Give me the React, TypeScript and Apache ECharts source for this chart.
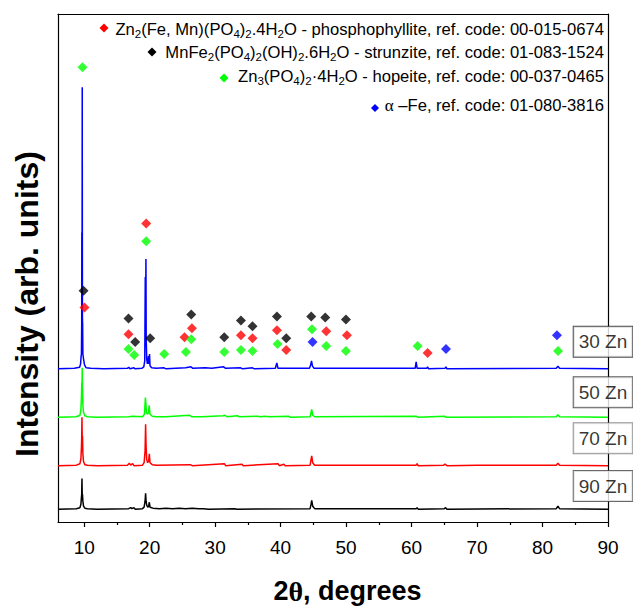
import React, { useEffect, useRef } from 'react';
import * as echarts from 'echarts';

const SANS = '"Liberation Sans", Arial, sans-serif';
const SERIF = '"Liberation Serif", "Times New Roman", serif';

// x axis (2θ, degrees)
const xMin = 6;
const xMax = 90;
const xTickValues = [10, 20, 30, 40, 50, 60, 70, 80, 90];
const xMinorTickValues = [15, 25, 35, 45, 55, 65, 75, 85];
const yMax = 514;

// samples (top to bottom)
const sampleNames = ['30 Zn', '50 Zn', '70 Zn', '90 Zn'];
const sampleOffsets = [155, 106, 57, 13];
const sampleLabelY = [182.5, 131.3, 84.7, 36.3];

// XRD patterns: [2θ, intensity above own baseline]
const pattern30Zn: number[][] = [
  [6, 0], [8.5, 0.5], [9.3, 1.5], [9.45, 5], [9.52, 12], [9.58, 15], [9.62, 46], [9.64, 138], [9.67, 60], [9.7, 285], [9.73, 50], [9.76, 46], [9.8, 15], [9.9, 10], [10.05, 4], [10.3, 1], [11, 0.5], [13, 0],
  [16.6, 0.5], [16.8, 1.5], [17, 0], [17.6, 1], [17.8, 0], [18.8, 0.5], [19.1, 2], [19.25, 8], [19.33, 93], [19.38, 60], [19.43, 111], [19.47, 30], [19.55, 10], [19.65, 5], [19.75, 8], [19.82, 13], [19.88, 5], [19.98, 15], [20.05, 3], [20.3, 1], [21, 0.5],
  [22.2, 1], [22.5, 0], [25.5, 1], [26.3, 2], [26.6, 0.5], [28.5, 1], [29.5, 0.5], [31.3, 2], [31.6, 0.5], [33.9, 1], [34.2, 0], [35.7, 1], [36, 0],
  [39.2, 0.5], [39.42, 6], [39.6, 0.5], [44.4, 0.5], [44.6, 4], [44.72, 8], [44.85, 3], [45.1, 0.5], [50, 0.5],
  [60.55, 0.5], [60.7, 7], [60.85, 0.5], [62.3, 0.5], [62.45, 2], [62.6, 0], [65.1, 0.5], [65.25, 2], [65.4, 0], [82.1, 0.5], [82.35, 2.5], [82.6, 0.5], [90, 0],
];
const pattern50Zn: number[][] = [
  [6, 0], [8.8, 0.5], [9.35, 2], [9.5, 8], [9.58, 20], [9.63, 35], [9.66, 28], [9.7, 50], [9.74, 30], [9.8, 12], [9.9, 5], [10.1, 1.5], [10.5, 0.5], [12, 0],
  [16.8, 0.5], [17.4, 1], [18.9, 0.5], [19.2, 3], [19.35, 20], [19.42, 14], [19.5, 5], [19.65, 3], [19.8, 4], [19.93, 12], [20.05, 3], [20.4, 1], [21, 0.5],
  [22.5, 0.5], [26.1, 2], [26.4, 0.5], [28, 0.5], [31.2, 1.5], [31.5, 2], [31.8, 0.5], [33.4, 1.5], [33.7, 0.5], [36.4, 1], [37, 0.5], [37.5, 1], [38.3, 0.5], [41.2, 1], [41.5, 0],
  [44.5, 0.5], [44.65, 5], [44.75, 8], [44.9, 2], [45.2, 0.5], [60.7, 1], [61, 0], [65, 1], [65.3, 0], [82.1, 0.5], [82.35, 2.5], [82.6, 0.5], [90, 0],
];
const pattern70Zn: number[][] = [
  [6, 0], [8.8, 0.5], [9.35, 2], [9.5, 7], [9.58, 18], [9.62, 28], [9.66, 49], [9.7, 26], [9.74, 30], [9.8, 12], [9.9, 4], [10.1, 1], [10.5, 0.5], [12, 0],
  [16.6, 0.5], [16.9, 2.5], [17.1, 0.5], [17.4, 2], [17.6, 0], [18.9, 0.5], [19.15, 3], [19.3, 15], [19.38, 42], [19.45, 20], [19.55, 6], [19.7, 3], [19.85, 5], [19.95, 12], [20.05, 3], [20.4, 1], [21, 0.5],
  [26.2, 1], [26.5, 0], [31.4, 2], [31.6, 0], [34.1, 1.5], [34.3, 0], [39.6, 2], [39.8, 0], [40.5, 1.5], [40.7, 0],
  [44.5, 0.5], [44.65, 6], [44.75, 10], [44.9, 3], [45.2, 0.5], [60.7, 0.5], [60.85, 2], [61, 0], [64.9, 0.5], [65.1, 1.5], [65.4, 0], [70, 0.5], [75, 0.5], [82.1, 0.5], [82.35, 2.5], [82.6, 0.5], [90, 0],
];
const pattern90Zn: number[][] = [
  [6, 0], [8.8, 0.5], [9.35, 1.5], [9.5, 5], [9.58, 12], [9.62, 15], [9.66, 31], [9.7, 14], [9.74, 15], [9.8, 8], [9.9, 3], [10.1, 1], [10.5, 0.5], [12, 0],
  [16.8, 0.5], [17.1, 1.5], [17.3, 0.5], [17.6, 1.5], [17.8, 0], [18.9, 0.5], [19.15, 2], [19.3, 8], [19.38, 16], [19.45, 8], [19.55, 4], [19.7, 2], [19.85, 3], [19.95, 7], [20.05, 2], [20.5, 1],
  [21.5, 0.5], [22.5, 1], [23.5, 0.5], [24.5, 1], [25.5, 0.5], [26.5, 1], [27.5, 0.5], [28.2, 0.5], [29, 0], [33, 0.5], [33.3, 0],
  [44.5, 0.5], [44.65, 5], [44.75, 9], [44.9, 3], [45.2, 0.5], [60.7, 0.5], [60.85, 1.5], [61, 0], [65, 0.5], [65.2, 1.5], [65.4, 0], [82.1, 0.5], [82.35, 3], [82.6, 0.5], [90, 0],
];
const samplePatterns = [pattern30Zn, pattern50Zn, pattern70Zn, pattern90Zn];

// reference peak markers: [2θ, marker height]
const phosphophylliteRef = [[10.05, 217], [16.77, 190], [19.47, 302], [25.32, 187], [26.46, 196], [33.94, 189], [35.71, 186], [39.44, 194], [40.86, 174], [46.97, 193], [50.13, 189], [62.45, 171]];
const strunziteRef = [[9.9, 234], [16.77, 206], [17.79, 182], [20.08, 186], [26.35, 210], [31.39, 187], [33.94, 204], [35.71, 198], [39.44, 208], [40.86, 186], [44.68, 208], [46.82, 207], [49.98, 205]];
const hopeiteRef = [[9.74, 460], [16.77, 175], [17.64, 169], [19.47, 284], [22.22, 170], [25.54, 172], [26.35, 185], [31.39, 172], [33.94, 174], [35.71, 173], [39.53, 180], [44.79, 195], [46.97, 178], [49.98, 173], [60.92, 178], [82.37, 173]];
const alphaFeRef = [[44.88, 182], [65.26, 175], [82.2, 189]];

const sampleColors = ['#0000ff', '#00ff00', '#ff0000', '#000000'];
const labelBorderColors = ['#222', '#333', '#777', '#444'];

const legendRich = {
  t: { fontSize: 16.6, fontFamily: SANS, color: '#000', lineHeight: 22 },
  s: { fontSize: 11.5, fontFamily: SANS, color: '#000', lineHeight: 12, verticalAlign: 'bottom' },
  a: { fontSize: 17, fontFamily: SERIF, color: '#000', lineHeight: 22 },
};

const legendEntries = [
  { color: '#ff0000', y: 29, mx: 104, my: 28, r: 4.5, text: '{t|Zn}{s|2}{t|(Fe, Mn)(PO}{s|4}{t|)}{s|2}{t|.4H}{s|2}{t|O - phosphophyllite, ref. code: 00-015-0674}' },
  { color: '#000000', y: 52, mx: 152, my: 52, r: 4.5, text: '{t|MnFe}{s|2}{t|(PO}{s|4}{t|)}{s|2}{t|(OH)}{s|2}{t|.6H}{s|2}{t|O - strunzite, ref. code: 01-083-1524}' },
  { color: '#00ff00', y: 76, mx: 224, my: 78, r: 4.5, text: '{t|Zn}{s|3}{t|(PO}{s|4}{t|)}{s|2}{t|·4H}{s|2}{t|O - hopeite, ref. code: 00-037-0465}' },
  { color: '#0000ff', y: 105, mx: 375, my: 108, r: 4, text: '{a|α}{t| –Fe, ref. code: 01-080-3816}' },
];

function diamond(cx: number, cy: number, r: number, color: string) {
  return {
    type: 'polygon',
    shape: { points: [[cx, cy - r], [cx + r, cy], [cx, cy + r], [cx - r, cy]] },
    style: { fill: color },
    z: 20,
  };
}

function buildOption() {
  const lineSeries = samplePatterns
    .map((p, i) => ({
      type: 'line',
      name: sampleNames[i],
      data: p.map(([x, y]) => [x, y + sampleOffsets[i]]),
      showSymbol: false,
      symbol: 'none',
      lineStyle: { color: sampleColors[i], width: 1.5 },
      itemStyle: { color: sampleColors[i] },
      silent: true,
      z: 2,
    }))
    .reverse();

  const refSets = [
    { data: phosphophylliteRef, color: '#ff0000' },
    { data: strunziteRef, color: '#000000' },
    { data: hopeiteRef, color: '#00ff00' },
    { data: alphaFeRef, color: '#0000ff' },
  ];
  const markerSeries = refSets.map((r) => ({
    type: 'scatter',
    data: r.data,
    symbol: 'diamond',
    symbolSize: 10,
    itemStyle: { color: r.color },
    silent: true,
    z: 5,
  }));

  const labelSeries = sampleNames.map((n, i) => ({
    type: 'scatter',
    data: [[xMax, sampleLabelY[i]]],
    symbolSize: 0,
    silent: true,
    z: 8,
    label: {
      show: true,
      position: 'inside',
      formatter: n,
      offset: [-5, 0],
      fontSize: 19,
      fontFamily: SANS,
      color: '#000',
      backgroundColor: '#fff',
      borderColor: labelBorderColors[i],
      borderWidth: 1,
      padding: [6, 5, 5, 5],
    },
  }));

  const graphics: any[] = [];
  legendEntries.forEach((e) => {
    graphics.push({
      type: 'text',
      x: 604,
      y: e.y,
      z: 20,
      style: { text: e.text, rich: legendRich, align: 'right', verticalAlign: 'middle' },
    });
    graphics.push(diamond(e.mx, e.my, e.r, e.color));
  });

  return {
    animation: false,
    backgroundColor: '#fff',
    grid: { left: 58, right: 25, top: 14, bottom: 82, containLabel: false },
    xAxis: [
      {
        type: 'value', min: xMin, max: xMax, position: 'bottom',
        axisLine: { show: true, onZero: false, lineStyle: { color: '#000', width: 1.2 } },
        axisTick: { show: true, inside: false, length: 5, customValues: xTickValues, lineStyle: { color: '#000', width: 1.2 } },
        axisLabel: { show: true, customValues: xTickValues, fontSize: 19, fontFamily: SANS, color: '#000', margin: 16 },
        splitLine: { show: false },
        name: '{b|2}{th|θ}{b|, degrees}',
        nameLocation: 'middle',
        nameGap: 55,
        nameTextStyle: {
          padding: [0, 0, 0, 29],
          rich: {
            b: { fontSize: 27, fontWeight: 'bold', fontFamily: SANS, color: '#000' },
            th: { fontSize: 28, fontWeight: 'bold', fontFamily: SERIF, color: '#000' },
          },
        },
      },
      {
        type: 'value', min: xMin, max: xMax, position: 'bottom',
        axisLine: { show: false, onZero: false },
        axisTick: { show: true, inside: false, length: 3, customValues: xMinorTickValues, lineStyle: { color: '#000', width: 1.2 } },
        axisLabel: { show: false },
        splitLine: { show: false },
      },
      {
        type: 'value', min: xMin, max: xMax, position: 'top',
        axisLine: { show: true, onZero: false, lineStyle: { color: '#000', width: 1.2 } },
        axisTick: { show: false },
        axisLabel: { show: false },
        splitLine: { show: false },
      },
    ],
    yAxis: [
      {
        type: 'value', min: 0, max: yMax, position: 'left',
        axisLine: { show: true, onZero: false, lineStyle: { color: '#000', width: 1.2 } },
        axisTick: { show: false },
        axisLabel: { show: false },
        splitLine: { show: false },
        name: 'Intensity (arb. units)',
        nameLocation: 'middle',
        nameGap: 15,
        nameTextStyle: { fontSize: 32, fontWeight: 'bold', fontFamily: SANS, color: '#000', padding: [0, 72, 0, 0] },
      },
      {
        type: 'value', min: 0, max: yMax, position: 'right',
        axisLine: { show: true, onZero: false, lineStyle: { color: '#000', width: 1.2 } },
        axisTick: { show: false },
        axisLabel: { show: false },
        splitLine: { show: false },
      },
    ],
    series: [...lineSeries, ...markerSeries, ...labelSeries],
    graphic: graphics,
  };
}

export default function App() {
  const ref = useRef<HTMLDivElement>(null);
  useEffect(() => {
    if (!ref.current) return;
    const chart = echarts.init(ref.current, null, { renderer: 'svg' });
    chart.setOption(buildOption() as any);
    return () => chart.dispose();
  }, []);
  return (
    <div
      ref={ref}
      style={{ position: 'absolute', left: 0, top: 0, width: 633, height: 610, background: '#fff' }}
    />
  );
}
